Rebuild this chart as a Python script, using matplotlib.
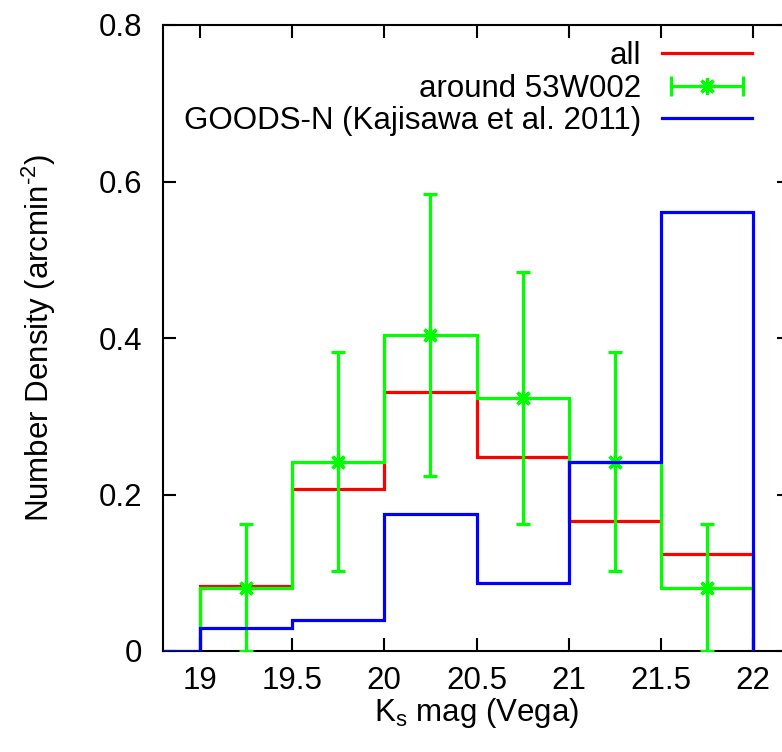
import matplotlib
matplotlib.use("Agg")
import matplotlib.pyplot as plt
from matplotlib.lines import Line2D
from matplotlib.legend_handler import HandlerLine2D, HandlerTuple
from matplotlib.ticker import FuncFormatter

plt.rcParams["font.family"] = ["Liberation Sans", "DejaVu Sans"]
plt.rcParams["mathtext.fontset"] = "custom"
plt.rcParams["mathtext.rm"] = "Liberation Sans"
plt.rcParams["mathtext.it"] = "Liberation Sans"
plt.rcParams["mathtext.default"] = "regular"

# K_s magnitude bins
bin_edges = [19.0, 19.5, 20.0, 20.5, 21.0, 21.5, 22.0]
bin_centers = [19.25, 19.75, 20.25, 20.75, 21.25, 21.75]

# all objects
density_all = [0.083, 0.207, 0.331, 0.248, 0.166, 0.124]

# around 53W002, with Poisson errors
density_53w002 = [0.081, 0.242, 0.404, 0.323, 0.242, 0.081]
err_53w002 = [0.081, 0.140, 0.180, 0.161, 0.140, 0.081]

# GOODS-N field (Kajisawa et al. 2011), first bin is empty
goods_edges = [18.5, 19.0, 19.5, 20.0, 20.5, 21.0, 21.5, 22.0]
density_goods = [0.0, 0.029, 0.040, 0.175, 0.087, 0.242, 0.561]

x_ticks = [19, 19.5, 20, 20.5, 21, 21.5, 22]
y_ticks = [0, 0.2, 0.4, 0.6, 0.8]

RED = "#ff0000"
GREEN = "#00ff00"
BLUE = "#0000ff"
LW = 2.3
FS = 22.5

fig = plt.figure(figsize=(7.82, 7.52), dpi=100)
# right border falls just outside the canvas
ax = fig.add_axes([163 / 782, 101 / 752, 627 / 782, 626 / 752])

ax.stairs(density_all, bin_edges, baseline=0, color=RED, lw=LW, zorder=2)
ax.stairs(density_53w002, bin_edges, baseline=0, color=GREEN, lw=LW, zorder=3)
ax.errorbar(bin_centers, density_53w002, yerr=err_53w002, fmt="none",
            ecolor=GREEN, elinewidth=LW, capsize=5, capthick=LW, zorder=3)
ax.plot(bin_centers, density_53w002, ls="none", marker=(8, 2, 0), ms=12,
        mec=GREEN, mew=2.3, zorder=3)
ax.stairs(density_goods, goods_edges, baseline=0, color=BLUE, lw=LW, zorder=4)

ax.set_xlim(18.8, 22.2)
ax.set_ylim(0, 0.8)
ax.set_xticks(x_ticks)
ax.set_yticks(y_ticks)
fmt = FuncFormatter(lambda v, pos: "%g" % v)
ax.xaxis.set_major_formatter(fmt)
ax.yaxis.set_major_formatter(fmt)
ax.tick_params(direction="in", length=9.5, width=1.5, labelsize=FS,
               top=True, right=True)
ax.tick_params(axis="x", pad=11)
ax.tick_params(axis="y", pad=15)
for s in ax.spines.values():
    s.set_linewidth(1.5)

ax.set_xlabel("K$_{s}$ mag (Vega)", fontsize=FS, labelpad=0)
ax.set_ylabel(r"Number Density (arcmin$^{\text{-}2}$)", fontsize=FS, labelpad=29)

# legend: line samples on the right, labels right-aligned
h_all = Line2D([], [], color=RED, lw=LW)
h_bar = Line2D([], [], color=GREEN, lw=LW, marker="|", ms=14, mew=LW)
h_star = Line2D([], [], color=GREEN, lw=0, marker=(8, 2, 0), ms=12, mew=2.3)
h_goods = Line2D([], [], color=BLUE, lw=LW)
ax.legend([h_all, (h_bar, h_star), h_goods],
          ["all", "around 53W002", "GOODS-N (Kajisawa et al. 2011)"],
          handler_map={h_bar: HandlerLine2D(numpoints=2),
                       tuple: HandlerTuple(ndivide=1, pad=0)},
          loc="upper right", bbox_to_anchor=(0.940, 0.974),
          frameon=False, markerfirst=False, fontsize=FS,
          handlelength=2.9, handletextpad=0.65, labelspacing=0.075,
          borderpad=0, borderaxespad=0, numpoints=1)

fig.savefig("out.png", dpi=100)
